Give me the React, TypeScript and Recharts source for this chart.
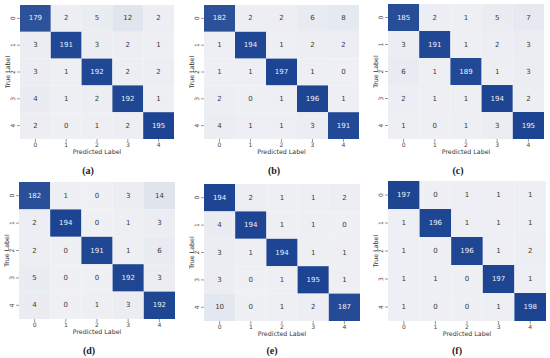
import React from 'react';
import { ScatterChart, Scatter, XAxis, YAxis, Label } from 'recharts';

const classLabels = ['0', '1', '2', '3', '4'];
const matrixA = [[179, 2, 5, 12, 2], [3, 191, 3, 2, 1], [3, 1, 192, 2, 2], [4, 1, 2, 192, 1], [2, 0, 1, 2, 195]];
const matrixB = [[182, 2, 2, 6, 8], [1, 194, 1, 2, 2], [1, 1, 197, 1, 0], [2, 0, 1, 196, 1], [4, 1, 1, 3, 191]];
const matrixC = [[185, 2, 1, 5, 7], [3, 191, 1, 2, 3], [6, 1, 189, 1, 3], [2, 1, 1, 194, 2], [1, 0, 1, 3, 195]];
const matrixD = [[182, 1, 0, 3, 14], [2, 194, 0, 1, 3], [2, 0, 191, 1, 6], [5, 0, 0, 192, 3], [4, 0, 1, 3, 192]];
const matrixE = [[194, 2, 1, 1, 2], [4, 194, 1, 1, 0], [3, 1, 194, 1, 1], [3, 0, 1, 195, 1], [10, 0, 1, 2, 187]];
const matrixF = [[197, 0, 1, 1, 1], [1, 196, 1, 1, 1], [1, 0, 196, 1, 2], [1, 1, 0, 197, 1], [1, 0, 0, 1, 198]];
const captions = ['(a)', '(b)', '(c)', '(d)', '(e)', '(f)'];
const xTitle = 'Predicted Label';
const yTitle = 'True Label';

const FONT = 'DejaVu Sans, sans-serif';
const LIGHT = [238, 240, 244];
const DARK = [28, 68, 146];

const layout = [
  { m: matrixA, gx0: 20, gy0: 5, gx1: 174, gy1: 139, capX: 88, capY: 174 },
  { m: matrixB, gx0: 204, gy0: 5, gx1: 359, gy1: 139, capX: 274, capY: 174 },
  { m: matrixC, gx0: 388, gy0: 4, gx1: 544, gy1: 139, capX: 458, capY: 174 },
  { m: matrixD, gx0: 19, gy0: 182, gx1: 175, gy1: 319, capX: 89, capY: 354 },
  { m: matrixE, gx0: 204, gy0: 184, gx1: 360, gy1: 321, capX: 272, capY: 354 },
  { m: matrixF, gx0: 388, gy0: 181, gx1: 546, gy1: 321, capX: 457, capY: 354 },
];

const colorFor = (v: number, max: number) => {
  const t = Math.max(0, Math.min(1, v / max));
  const c = LIGHT.map((l, i) => Math.round(l + (DARK[i] - l) * t));
  return `rgb(${c[0]},${c[1]},${c[2]})`;
};

const toPoints = (m: number[][]) => {
  const pts: { pred: number; actual: number; count: number }[] = [];
  m.forEach((row, r) => row.forEach((v, c) => pts.push({ pred: c, actual: r, count: v })));
  return pts;
};

const YTick = (props: any) => {
  const { x, y, payload } = props;
  return (
    <text
      x={x}
      y={y}
      transform={`rotate(-90, ${x}, ${y})`}
      textAnchor="middle"
      fontSize={6}
      fontFamily={FONT}
      fill="#444"
    >
      {classLabels[payload.value]}
    </text>
  );
};

const Panel = ({ p }: { p: any }) => {
  const ML = 22;
  const MT = 4;
  const MR = 4;
  const XH = 22;
  const w = p.gx1 - p.gx0 + ML + MR;
  const h = p.gy1 - p.gy0 + MT + XH;
  const cw = (p.gx1 - p.gx0) / classLabels.length;
  const ch = (p.gy1 - p.gy0) / classLabels.length;
  const max = Math.max(...p.m.flat());
  const shape = (props: any) => {
    const { cx, cy, payload } = props;
    const v = payload.count;
    const dark = v / max > 0.5;
    return (
      <g>
        <rect x={cx - cw / 2} y={cy - ch / 2} width={cw} height={ch} fill={colorFor(v, max)} />
        <text
          x={cx}
          y={cy}
          textAnchor="middle"
          dominantBaseline="central"
          fontSize={7}
          fontFamily={FONT}
          fill={dark ? '#eef2f9' : '#3a3a3a'}
        >
          {v}
        </text>
      </g>
    );
  };
  return (
    <div style={{ position: 'absolute', left: p.gx0 - ML, top: p.gy0 - MT, width: w, height: h }}>
      <ScatterChart width={w} height={h} margin={{ top: MT, right: MR, left: 0, bottom: 0 }}>
        <XAxis
          type="number"
          dataKey="pred"
          domain={[-0.5, 4.5]}
          ticks={[0, 1, 2, 3, 4]}
          interval={0}
          tickFormatter={(i: number) => classLabels[i]}
          axisLine={false}
          tickLine={{ stroke: '#555', strokeWidth: 0.6 }}
          tickSize={3}
          tickMargin={1}
          height={XH}
          tick={{ fontSize: 6, fill: '#444', fontFamily: FONT }}
        >
          <Label
            content={(lp: any) => {
              const vb = lp.viewBox || {};
              return (
                <text
                  x={vb.x + vb.width / 2}
                  y={vb.y + 12}
                  textAnchor="middle"
                  dominantBaseline="central"
                  fontSize={6.3}
                  fontFamily={FONT}
                  fill="#333"
                >
                  {xTitle}
                </text>
              );
            }}
          />
        </XAxis>
        <YAxis
          type="number"
          dataKey="actual"
          domain={[-0.5, 4.5]}
          ticks={[0, 1, 2, 3, 4]}
          interval={0}
          reversed
          axisLine={false}
          tickLine={{ stroke: '#555', strokeWidth: 0.6 }}
          tickSize={3}
          tickMargin={2}
          width={ML}
          tick={<YTick />}
        >
          <Label
            content={(lp: any) => {
              const vb = lp.viewBox || {};
              const x = vb.x + vb.width - 12.5;
              const y = vb.y + vb.height / 2;
              return (
                <text
                  x={x}
                  y={y}
                  transform={`rotate(-90, ${x}, ${y})`}
                  textAnchor="middle"
                  dominantBaseline="central"
                  fontSize={6.3}
                  fontFamily={FONT}
                  fill="#333"
                >
                  {yTitle}
                </text>
              );
            }}
          />
        </YAxis>
        <Scatter data={toPoints(p.m)} shape={shape} isAnimationActive={false} />
      </ScatterChart>
    </div>
  );
};

export default function App() {
  return (
    <div style={{ position: 'absolute', left: 0, top: 0, width: 550, height: 358, background: '#fff' }}>
      {layout.map((p, i) => (
        <Panel key={i} p={p} />
      ))}
      <svg width={550} height={358} style={{ position: 'absolute', left: 0, top: 0, pointerEvents: 'none' }}>
        {layout.map((p, i) => (
          <text
            key={i}
            x={p.capX}
            y={p.capY}
            textAnchor="middle"
            fontSize={10}
            fontWeight="bold"
            fontFamily="Liberation Serif, serif"
            fill="#222"
          >
            {captions[i]}
          </text>
        ))}
      </svg>
    </div>
  );
}
